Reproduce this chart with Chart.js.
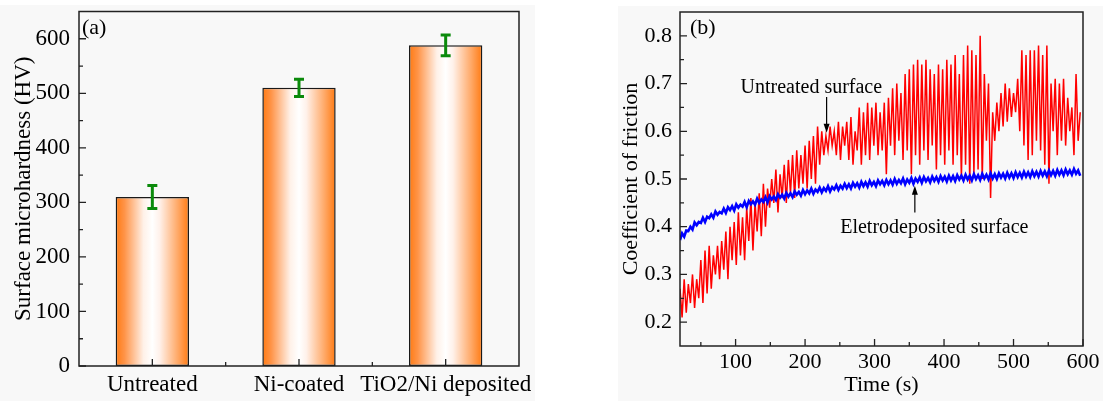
<!DOCTYPE html>
<html>
<head>
<meta charset="utf-8">
<title>Microhardness and friction</title>
<script src="https://cdn.jsdelivr.net/npm/chart.js@4.4.1/dist/chart.umd.min.js"></script>
<style>
  html, body { margin: 0; padding: 0; background: #fff; }
  body { width: 1103px; height: 401px; position: relative; overflow: hidden; }
  .panel { position: absolute; background: #f8f8f8; }
  #panelA { left: 0; top: 5px; width: 535px; height: 396px; }
  #panelB { left: 618px; top: 6px; width: 485px; height: 395px; }
</style>
</head>
<body>
<div class="panel" id="panelA"><canvas id="hardness" width="535" height="396"></canvas></div>
<div class="panel" id="panelB"><canvas id="friction" width="485" height="395"></canvas></div>
<script>
// ---- panel (a): surface microhardness ----
const surfaceLabels = ['Untreated', 'Ni-coated', 'TiO2/Ni deposited'];
const hardnessValues = [310, 510, 588];
const hardnessErrors = [21, 16, 19];
const hardnessTicks = [0, 100, 200, 300, 400, 500, 600];

// ---- panel (b): coefficient of friction vs time ----
const timeStart = 20;   // s, first sample
const timeStep = 3;     // s, between samples
const timeTicks = [100, 200, 300, 400, 500, 600];
const frictionTicks = [0.2, 0.3, 0.4, 0.5, 0.6, 0.7, 0.8];

const untreatedCof = [
  0.27, 0.21, 0.29, 0.22, 0.28, 0.24, 0.30, 0.23, 0.29, 0.25,
  0.33, 0.24, 0.35, 0.26, 0.36, 0.27, 0.34, 0.30, 0.36, 0.29,
  0.37, 0.31, 0.39, 0.29, 0.40, 0.33, 0.41, 0.32, 0.43, 0.34,
  0.42, 0.33, 0.44, 0.37, 0.46, 0.35, 0.45, 0.39, 0.47, 0.38,
  0.49, 0.40, 0.48, 0.44, 0.50, 0.45, 0.52, 0.43, 0.51, 0.46,
  0.53, 0.45, 0.54, 0.47, 0.55, 0.46, 0.56, 0.48, 0.55, 0.49,
  0.57, 0.48, 0.58, 0.50, 0.59, 0.49, 0.61, 0.53, 0.60, 0.55,
  0.59, 0.56, 0.61, 0.57, 0.60, 0.55, 0.62, 0.54, 0.61, 0.57,
  0.62, 0.54, 0.63, 0.53, 0.60, 0.56, 0.65, 0.53, 0.64, 0.55,
  0.66, 0.54, 0.65, 0.57, 0.66, 0.55, 0.64, 0.56, 0.66, 0.51,
  0.67, 0.57, 0.69, 0.55, 0.70, 0.58, 0.68, 0.54, 0.72, 0.56,
  0.73, 0.51, 0.74, 0.55, 0.75, 0.53, 0.74, 0.56, 0.75, 0.54,
  0.73, 0.57, 0.72, 0.52, 0.74, 0.55, 0.73, 0.53, 0.75, 0.56,
  0.74, 0.53, 0.76, 0.55, 0.72, 0.50, 0.76, 0.53, 0.78, 0.49,
  0.77, 0.51, 0.76, 0.52, 0.80, 0.50, 0.72, 0.58, 0.70, 0.46,
  0.64, 0.58, 0.66, 0.60, 0.68, 0.61, 0.70, 0.62, 0.69, 0.63,
  0.68, 0.64, 0.71, 0.60, 0.77, 0.57, 0.76, 0.54, 0.77, 0.55,
  0.77, 0.58, 0.78, 0.56, 0.76, 0.53, 0.78, 0.49, 0.70, 0.60,
  0.71, 0.55, 0.70, 0.58, 0.71, 0.57, 0.67, 0.60, 0.65, 0.55,
  0.72, 0.58, 0.64
];

const depositedCof = [
  0.372, 0.386, 0.379, 0.392, 0.391, 0.400, 0.394, 0.409, 0.403, 0.410,
  0.408, 0.419, 0.410, 0.421, 0.418, 0.426, 0.419, 0.432, 0.425, 0.431,
  0.428, 0.438, 0.429, 0.441, 0.435, 0.443, 0.434, 0.447, 0.440, 0.446,
  0.442, 0.452, 0.441, 0.454, 0.447, 0.453, 0.446, 0.459, 0.450, 0.457,
  0.452, 0.462, 0.451, 0.464, 0.457, 0.463, 0.456, 0.468, 0.461, 0.467,
  0.459, 0.471, 0.463, 0.470, 0.462, 0.474, 0.467, 0.473, 0.465, 0.477,
  0.468, 0.476, 0.470, 0.480, 0.469, 0.478, 0.473, 0.482, 0.472, 0.481,
  0.475, 0.485, 0.474, 0.483, 0.478, 0.487, 0.477, 0.486, 0.480, 0.490,
  0.481, 0.489, 0.480, 0.492, 0.484, 0.491, 0.482, 0.494, 0.485, 0.493,
  0.484, 0.496, 0.487, 0.494, 0.485, 0.497, 0.489, 0.496, 0.487, 0.498,
  0.489, 0.497, 0.488, 0.500, 0.490, 0.498, 0.491, 0.501, 0.489, 0.499,
  0.492, 0.502, 0.490, 0.501, 0.494, 0.503, 0.492, 0.504, 0.495, 0.502,
  0.493, 0.505, 0.496, 0.504, 0.494, 0.506, 0.497, 0.505, 0.495, 0.507,
  0.497, 0.506, 0.496, 0.508, 0.499, 0.507, 0.497, 0.509, 0.499, 0.507,
  0.497, 0.510, 0.500, 0.508, 0.498, 0.511, 0.501, 0.509, 0.499, 0.512,
  0.501, 0.510, 0.500, 0.512, 0.503, 0.511, 0.501, 0.513, 0.503, 0.512,
  0.502, 0.514, 0.504, 0.513, 0.503, 0.515, 0.505, 0.514, 0.504, 0.516,
  0.506, 0.515, 0.505, 0.517, 0.507, 0.516, 0.506, 0.518, 0.508, 0.517,
  0.507, 0.519, 0.509, 0.518, 0.508, 0.520, 0.510, 0.518, 0.509, 0.521,
  0.511, 0.518, 0.507
];

// text callouts, in data coordinates (time, cof)
const callouts = [
  { text: 'Untreated surface', x: 209, y: 0.691, arrowX: 231, from: 0.672, to: 0.597 },
  { text: 'Eletrodeposited surface', x: 386, y: 0.398, arrowX: 358, from: 0.430, to: 0.486 }
];

const SERIF = '"Liberation Serif", "Times New Roman", Times, serif';
Chart.defaults.font.family = SERIF;
Chart.defaults.color = '#000';

const toPoints = (values) => values.map((v, i) => ({ x: timeStart + i * timeStep, y: v }));

// keep tick labels from pushing the plot area around
const noScalePadding = (s) => {
  s.paddingTop = 0; s.paddingBottom = 0;
  s.paddingLeft = 0; s.paddingRight = 0;
};

/**
 * Draws the closed frame, inward tick marks and the panel letter.
 */
const frameTicks = {
  id: 'frameTicks',
  afterDraw(chart, args, opts) {
    const { ctx, chartArea: a } = chart;
    const xs = chart.scales.x, ys = chart.scales.y;
    ctx.save();
    ctx.strokeStyle = '#222';
    ctx.lineWidth = 1.5;
    ctx.strokeRect(a.left, a.top, a.right - a.left, a.bottom - a.top);

    ctx.lineWidth = 1.3;
    ctx.beginPath();
    const yTick = (v, len) => {
      const y = ys.getPixelForValue(v);
      ctx.moveTo(a.left, y); ctx.lineTo(a.left + len, y);
    };
    const xTick = (px, len) => {
      ctx.moveTo(px, a.bottom); ctx.lineTo(px, a.bottom - len);
    };
    opts.yMajor.forEach(v => yTick(v, 7));
    opts.yMinor.forEach(v => yTick(v, 4));
    opts.xMajor(xs).forEach(px => xTick(px, 7));
    opts.xMinor(xs).forEach(px => xTick(px, 4));
    ctx.stroke();

    ctx.fillStyle = '#000';
    ctx.font = `22px ${SERIF}`;
    ctx.textBaseline = 'middle';
    ctx.textAlign = 'left';
    ctx.fillText(opts.letter, a.left + opts.letterDx, a.top + opts.letterDy);
    ctx.restore();
  }
};

/**
 * Draws the green error bars on top of the bars.
 */
const errorBars = {
  id: 'errorBars',
  afterDatasetsDraw(chart) {
    const { ctx } = chart;
    const ys = chart.scales.y;
    const meta = chart.getDatasetMeta(0);
    ctx.save();
    ctx.strokeStyle = '#0b8a0b';
    ctx.lineWidth = 3;
    meta.data.forEach((bar, i) => {
      const hi = ys.getPixelForValue(hardnessValues[i] + hardnessErrors[i]);
      const lo = ys.getPixelForValue(hardnessValues[i] - hardnessErrors[i]);
      ctx.beginPath();
      ctx.moveTo(bar.x, hi); ctx.lineTo(bar.x, lo);
      ctx.moveTo(bar.x - 5, hi); ctx.lineTo(bar.x + 5, hi);
      ctx.moveTo(bar.x - 5, lo); ctx.lineTo(bar.x + 5, lo);
      ctx.stroke();
    });
    ctx.restore();
  }
};

/**
 * Draws the text labels with their arrows on the friction plot.
 */
const calloutPlugin = {
  id: 'callouts',
  afterDatasetsDraw(chart) {
    const { ctx } = chart;
    const xs = chart.scales.x, ys = chart.scales.y;
    ctx.save();
    ctx.fillStyle = '#000';
    ctx.strokeStyle = '#000';
    ctx.lineWidth = 1.2;
    ctx.font = `20px ${SERIF}`;
    ctx.textAlign = 'center';
    ctx.textBaseline = 'middle';
    callouts.forEach(c => {
      ctx.fillText(c.text, xs.getPixelForValue(c.x), ys.getPixelForValue(c.y));
      const ax = xs.getPixelForValue(c.arrowX);
      const y0 = ys.getPixelForValue(c.from);
      const y1 = ys.getPixelForValue(c.to);
      const dir = y1 > y0 ? 1 : -1;
      ctx.beginPath();
      ctx.moveTo(ax, y0); ctx.lineTo(ax, y1 - dir * 6);
      ctx.stroke();
      ctx.beginPath();
      ctx.moveTo(ax, y1);
      ctx.lineTo(ax - 3, y1 - dir * 9);
      ctx.lineTo(ax + 3, y1 - dir * 9);
      ctx.closePath();
      ctx.fill();
    });
    ctx.restore();
  }
};

function barGradient(context) {
  const chart = context.chart;
  const xs = chart.scales.x;
  if (!chart.chartArea || !xs || context.dataIndex === undefined) return '#ff7b16';
  const cx = xs.getPixelForValue(context.dataIndex);
  const half = (xs.width / surfaceLabels.length) * 0.5 / 2;
  const g = chart.ctx.createLinearGradient(cx - half, 0, cx + half, 0);
  g.addColorStop(0, '#ff7a12');
  g.addColorStop(0.12, '#ff9448');
  g.addColorStop(0.38, '#fff1e8');
  g.addColorStop(0.5, '#ffffff');
  g.addColorStop(0.6, '#fff1ea');
  g.addColorStop(0.85, '#ffa866');
  g.addColorStop(1, '#ff7a12');
  return g;
}

new Chart(document.getElementById('hardness'), {
  type: 'bar',
  data: {
    labels: surfaceLabels,
    datasets: [{
      data: hardnessValues,
      backgroundColor: barGradient,
      borderColor: '#1a1a1a',
      borderWidth: 1.5,
      borderSkipped: false,
      barPercentage: 0.5,
      categoryPercentage: 1
    }]
  },
  options: {
    responsive: false,
    animation: false,
    layout: { padding: { top: 6.5, right: 16, left: 0, bottom: 0 } },
    plugins: {
      legend: { display: false },
      tooltip: { enabled: false },
      frameTicks: {
        letter: '(a)', letterDx: 3, letterDy: 16.5,
        yMajor: hardnessTicks,
        yMinor: [50, 150, 250, 350, 450, 550],
        xMajor: xs => surfaceLabels.map((l, i) => xs.getPixelForValue(i)),
        xMinor: xs => surfaceLabels.slice(1).map((l, i) =>
          (xs.getPixelForValue(i) + xs.getPixelForValue(i + 1)) / 2)
      }
    },
    scales: {
      x: {
        grid: { display: false, drawTicks: false },
        border: { display: false },
        ticks: { font: { size: 23 }, padding: 5, maxRotation: 0, minRotation: 0, autoSkip: false },
        afterFit: s => { s.height = 35; noScalePadding(s); }
      },
      y: {
        min: 0,
        max: 650,
        grid: { display: false, drawTicks: false },
        border: { display: false },
        ticks: { font: { size: 23 }, padding: 9 },
        afterBuildTicks: s => { s.ticks = hardnessTicks.map(v => ({ value: v })); },
        title: {
          display: true,
          text: 'Surface microhardness (HV)',
          font: { size: 23 },
          padding: { top: 10, bottom: 0 }
        },
        afterFit: s => { s.width = 79; noScalePadding(s); }
      }
    }
  },
  plugins: [errorBars, frameTicks]
});

new Chart(document.getElementById('friction'), {
  type: 'line',
  data: {
    datasets: [
      {
        label: 'Eletrodeposited surface',
        data: toPoints(depositedCof),
        borderColor: '#0000ff',
        borderWidth: 2.6,
        pointRadius: 0,
        tension: 0
      },
      {
        label: 'Untreated surface',
        data: toPoints(untreatedCof),
        borderColor: '#ff0000',
        borderWidth: 1.5,
        pointRadius: 0,
        tension: 0
      }
    ]
  },
  options: {
    responsive: false,
    animation: false,
    layout: { padding: { top: 6, right: 20, left: 0, bottom: 0 } },
    plugins: {
      legend: { display: false },
      tooltip: { enabled: false },
      frameTicks: {
        letter: '(b)', letterDx: 10, letterDy: 16,
        yMajor: frictionTicks,
        yMinor: [0.25, 0.35, 0.45, 0.55, 0.65, 0.75],
        xMajor: xs => timeTicks.map(v => xs.getPixelForValue(v)),
        xMinor: xs => [50, 150, 250, 350, 450, 550].map(v => xs.getPixelForValue(v))
      }
    },
    scales: {
      x: {
        type: 'linear',
        min: 20,
        max: 600,
        grid: { display: false, drawTicks: false },
        border: { display: false },
        ticks: { font: { size: 22 }, padding: 3, maxRotation: 0 },
        afterBuildTicks: s => { s.ticks = timeTicks.map(v => ({ value: v })); },
        title: { display: true, text: 'Time (s)', font: { size: 22 }, padding: { top: 0, bottom: 3 } },
        afterFit: s => { s.height = 55; noScalePadding(s); }
      },
      y: {
        min: 0.15,
        max: 0.85,
        grid: { display: false, drawTicks: false },
        border: { display: false },
        ticks: { font: { size: 22 }, padding: 8, callback: v => v.toFixed(1) },
        afterBuildTicks: s => { s.ticks = frictionTicks.map(v => ({ value: v })); },
        title: {
          display: true,
          text: 'Coefficient of friction',
          font: { size: 22 },
          padding: { top: 0, bottom: 0 }
        },
        afterFit: s => { s.width = 62; noScalePadding(s); }
      }
    }
  },
  plugins: [calloutPlugin, frameTicks]
});
</script>
</body>
</html>
